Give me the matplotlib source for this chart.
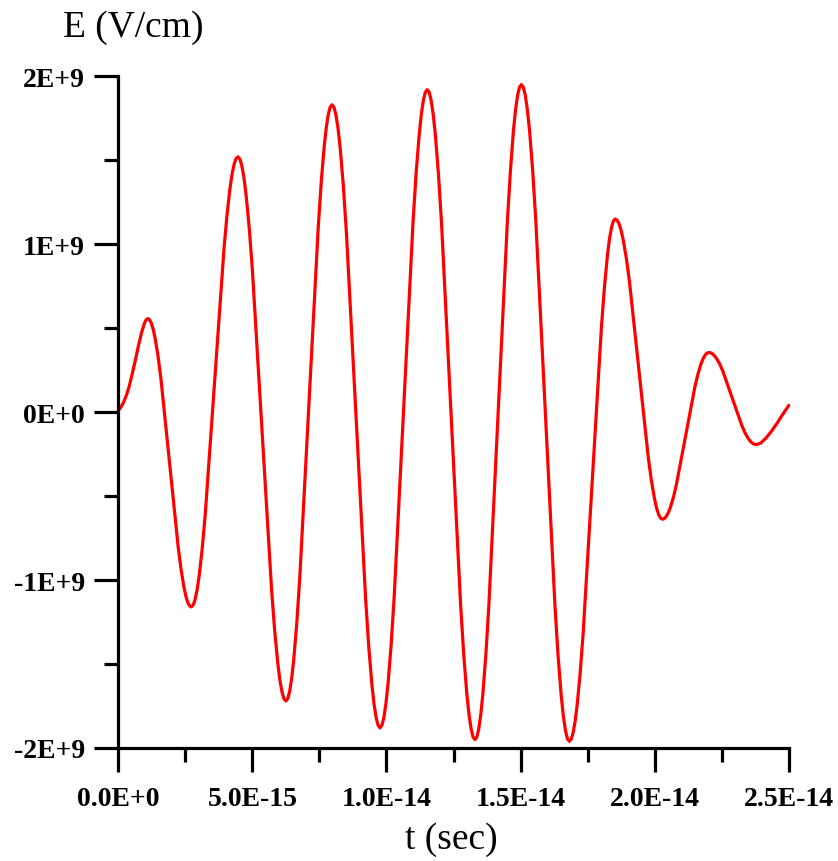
import matplotlib
matplotlib.use("Agg")
import matplotlib.pyplot as plt
from matplotlib.ticker import FixedLocator, MultipleLocator
import numpy as np

# Time samples in femtoseconds and field samples in units of 1E+9 V/cm
t_fs = [
    0.00, 0.10, 0.20, 0.30, 0.40, 0.50, 0.62, 0.75, 0.87, 0.98, 1.04,
    1.10, 1.165, 1.230, 1.303, 1.375, 1.481, 1.586, 1.910, 2.234, 2.339, 2.445, 2.518, 2.590, 2.655,
    2.72, 2.790, 2.859, 2.938, 3.016, 3.129, 3.242, 3.590, 3.938, 4.051, 4.164, 4.243, 4.321, 4.390,
    4.46, 4.532, 4.603, 4.684, 4.764, 4.881, 4.997, 5.355, 5.713, 5.829, 5.946, 6.026, 6.107, 6.178,
    6.25, 6.319, 6.388, 6.465, 6.542, 6.654, 6.766, 7.110, 7.454, 7.566, 7.678, 7.755, 7.832, 7.901,
    7.97, 8.042, 8.113, 8.194, 8.274, 8.391, 8.507, 8.865, 9.223, 9.339, 9.456, 9.536, 9.617, 9.688,
    9.76, 9.830, 9.901, 9.980, 10.059, 10.174, 10.288, 10.640, 10.992, 11.106, 11.221, 11.300, 11.379, 11.450,
    11.52, 11.591, 11.662, 11.743, 11.823, 11.938, 12.054, 12.410, 12.766, 12.882, 12.997, 13.078, 13.158, 13.229,
    13.30, 13.369, 13.438, 13.516, 13.594, 13.707, 13.819, 14.165, 14.511, 14.624, 14.736, 14.814, 14.892, 14.961,
    15.03, 15.102, 15.173, 15.254, 15.334, 15.451, 15.567, 15.925, 16.283, 16.399, 16.516, 16.596, 16.677, 16.748,
    16.82, 16.888, 16.957, 17.034, 17.111, 17.222, 17.333, 17.675, 18.017, 18.128, 18.239, 18.316, 18.393, 18.462,
    18.53, 18.600, 18.671, 18.750, 18.829, 18.944, 19.058, 19.410, 19.762, 19.876, 19.991, 20.070, 20.149, 20.220,
    20.29, 20.359, 20.428, 20.506, 20.584, 20.697, 20.809, 21.155, 21.501, 21.614, 21.726, 21.804, 21.882, 21.951,
    22.02, 22.090, 22.161, 22.240, 22.319, 22.434, 22.548, 22.900, 23.252, 23.366, 23.481, 23.560, 23.639, 23.710,
    23.78, 23.86, 23.95, 24.15, 24.35, 24.55, 24.75, 25.00,
]
field_e9 = [
    0.010, 0.030, 0.060, 0.100, 0.150, 0.215, 0.298, 0.395, 0.476, 0.532, 0.550,
    0.557, 0.550, 0.530, 0.492, 0.437, 0.333, 0.203, -0.302, -0.806, -0.936, -1.040, -1.095, -1.133, -1.153,
    -1.160, -1.149, -1.118, -1.058, -0.973, -0.811, -0.608, 0.180, 0.968, 1.171, 1.333, 1.418, 1.478, 1.509,
    1.520, 1.507, 1.469, 1.397, 1.294, 1.098, 0.852, -0.100, -1.052, -1.298, -1.494, -1.597, -1.669, -1.707,
    -1.720, -1.706, -1.664, -1.585, -1.473, -1.258, -0.988, 0.055, 1.098, 1.368, 1.583, 1.695, 1.774, 1.816,
    1.830, 1.815, 1.772, 1.689, 1.572, 1.347, 1.065, -0.025, -1.115, -1.397, -1.622, -1.739, -1.822, -1.865,
    -1.880, -1.865, -1.820, -1.735, -1.615, -1.385, -1.097, 0.020, 1.137, 1.425, 1.655, 1.775, 1.860, 1.905,
    1.920, 1.905, 1.859, 1.773, 1.650, 1.416, 1.122, -0.015, -1.152, -1.446, -1.680, -1.803, -1.889, -1.935,
    -1.950, -1.935, -1.889, -1.802, -1.678, -1.442, -1.146, 0.000, 1.146, 1.442, 1.678, 1.802, 1.889, 1.935,
    1.950, 1.935, 1.889, 1.801, 1.678, 1.441, 1.144, -0.005, -1.154, -1.451, -1.688, -1.811, -1.899, -1.945,
    -1.960, -1.948, -1.911, -1.842, -1.743, -1.555, -1.319, -0.405, 0.509, 0.745, 0.933, 1.032, 1.101, 1.138,
    1.150, 1.143, 1.122, 1.082, 1.025, 0.917, 0.781, 0.256, -0.269, -0.405, -0.513, -0.570, -0.610, -0.631,
    -0.638, -0.634, -0.622, -0.600, -0.569, -0.509, -0.433, -0.142, 0.150, 0.226, 0.286, 0.317, 0.339, 0.351,
    0.355, 0.353, 0.346, 0.334, 0.317, 0.284, 0.242, 0.081, -0.080, -0.122, -0.155, -0.172, -0.184, -0.191,
    -0.193, -0.190, -0.185, -0.155, -0.115, -0.070, -0.020, 0.040,
]

x_ticks = [0.0, 5.0e-15, 1.0e-14, 1.5e-14, 2.0e-14, 2.5e-14]
x_tick_labels = ["0.0E+0", "5.0E-15", "1.0E-14", "1.5E-14", "2.0E-14", "2.5E-14"]
y_ticks = [-2e9, -1e9, 0.0, 1e9, 2e9]
y_tick_labels = ["-2E+9", "-1E+9", "0E+0", "1E+9", "2E+9"]

t_sec = np.array(t_fs) * 1e-15
field = np.array(field_e9) * 1e9

fig = plt.figure(figsize=(8.38, 8.62), dpi=100)
ax = fig.add_axes([0.1412, 0.1311, 0.8, 0.7793])

ax.plot(t_sec, field, color="#ff0000", lw=2.3, solid_joinstyle="round",
        solid_capstyle="round", clip_on=False)

ax.set_xlim(0, 2.5e-14)
ax.set_ylim(-2e9, 2e9)

for side in ("top", "right"):
    ax.spines[side].set_visible(False)
for side in ("left", "bottom"):
    ax.spines[side].set_linewidth(2.3)

ax.xaxis.set_major_locator(FixedLocator(x_ticks))
ax.set_xticklabels(x_tick_labels)
ax.yaxis.set_major_locator(FixedLocator(y_ticks))
ax.set_yticklabels(y_tick_labels)
ax.xaxis.set_minor_locator(MultipleLocator(2.5e-15))
ax.yaxis.set_minor_locator(MultipleLocator(0.5e9))

ax.tick_params(which="major", direction="out", length=17, width=2.3)
ax.tick_params(which="minor", direction="out", length=10, width=2.3)
ax.tick_params(axis="x", which="major", pad=10.5)
ax.tick_params(axis="y", which="major", pad=7)

for lbl in ax.get_xticklabels() + ax.get_yticklabels():
    lbl.set_fontfamily("Liberation Serif")
    lbl.set_fontweight("bold")
    lbl.set_fontsize(20)

fig.text(133 / 838, 1 - 28 / 862, "E (V/cm)", family="Liberation Serif",
         fontsize=27, ha="center", va="center")
fig.text(451 / 838, 1 - 840 / 862, "t (sec)", family="Liberation Serif",
         fontsize=27, ha="center", va="center")

fig.savefig("out.png", dpi=100)
